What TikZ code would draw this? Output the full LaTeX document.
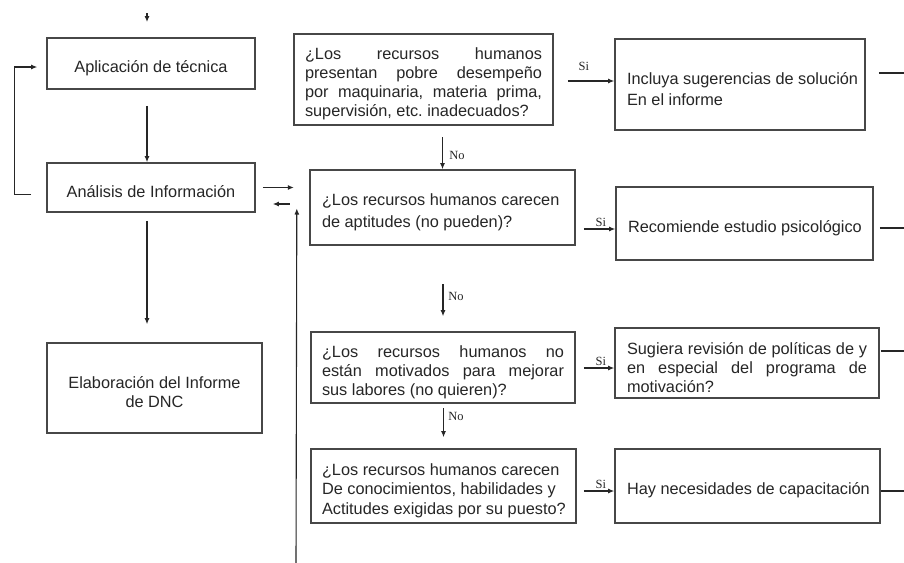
\documentclass[tikz,border=0pt]{standalone}
\usepackage{fontspec}
\setmainfont{Liberation Sans}
\newfontfamily\lblfont{Liberation Serif}
\usetikzlibrary{arrows.meta,calc}
\frenchspacing

\definecolor{ink}{HTML}{262626}
\definecolor{edge}{HTML}{474747}

% a line stretched to a fixed width, and lines set at their natural width
\newcommand\jl[2]{\makebox[#1][s]{\spaceskip=0pt\xspaceskip=0pt #2}}
\newcommand\lf[1]{\makebox[0pt][l]{\spaceskip=0pt\xspaceskip=0pt #1}}
\newcommand\cf[1]{\makebox[0pt][c]{\spaceskip=0pt\xspaceskip=0pt #1}}

\tikzset{
  box/.style={draw=edge, line width=1.6pt, rectangle, inner ysep=0pt,
    font=\fontsize{16.3}{19}\selectfont, text=ink, align=left,
    execute at begin node={\rule{0pt}{20.5pt}}},
  arr/.style={draw=ink, line width=1.1pt, -{Latex[length=6pt,width=5pt]}},
  lbl/.style={font=\lblfont\fontsize{12.5}{12.5}\selectfont, text=ink, inner sep=0pt},
}

\begin{document}
\begin{tikzpicture}[x=1pt,y=-1pt]
\useasboundingbox[fill=white] (0,0) rectangle (904,562);

% left column
\node[box, align=center, minimum width=208pt, minimum height=51pt, text width=190pt, inner xsep=9pt]
  (apl) at (151,63.5) {\cf{Aplicación de técnica}};
\node[box, align=center, minimum width=208pt, minimum height=49pt, text width=190pt, inner xsep=9pt]
  (ana) at (151,187.5) {\cf{Análisis de Información}};
\node[box, align=center, minimum width=215pt, minimum height=90pt, text width=197pt, inner xsep=9pt]
  (ela) at (154.5,388) {\cf{Elaboración del Informe}\\\cf{de DNC}};

% questions
\node[box, minimum width=259pt, minimum height=91pt, text width=237pt, inner xsep=11pt]
  (q1) at (423.5,79.5) {\jl{237pt}{¿Los recursos humanos}\\\jl{237pt}{presentan pobre desempeño}\\\jl{237pt}{por maquinaria, materia prima,}\\\lf{supervisión, etc. inadecuados?}};
\node[box, minimum width=265pt, minimum height=75pt, text width=241pt, inner xsep=12pt,
  font=\fontsize{16.3}{22}\selectfont]
  (q2) at (442.5,207.5) {\lf{¿Los recursos humanos carecen}\\\lf{de aptitudes (no pueden)?}};
\node[box, minimum width=264pt, minimum height=71pt, text width=242pt, inner xsep=11pt]
  (q3) at (443,367.5) {\jl{242pt}{¿Los recursos humanos no}\\\jl{242pt}{están motivados para mejorar}\\\lf{sus labores (no quieren)?}};
\node[box, minimum width=265pt, minimum height=74pt, text width=243pt, inner xsep=11pt,
  font=\fontsize{16.3}{19.5}\selectfont]
  (q4) at (443.5,486) {\lf{¿Los recursos humanos carecen}\\\lf{De conocimientos, habilidades y}\\\lf{Actitudes exigidas por su puesto?}};

% answers
\node[box, minimum width=250pt, minimum height=91pt, text width=226pt, inner xsep=12pt,
  font=\fontsize{16.3}{21}\selectfont]
  (r1) at (740,84.5) {\lf{Incluya sugerencias de solución}\\\lf{En el informe}};
\node[box, minimum width=257pt, minimum height=73pt, text width=233pt, inner xsep=12pt]
  (r2) at (744.5,223.5) {\lf{Recomiende estudio psicológico}};
\node[box, minimum width=264pt, minimum height=70pt, text width=240pt, inner xsep=12pt]
  (r3) at (747,363) {\jl{240pt}{Sugiera revisión de políticas de y}\\\jl{240pt}{en especial del programa de}\\\lf{motivación?}};
\node[box, minimum width=265pt, minimum height=74pt, text width=241pt, inner xsep=12pt]
  (r4) at (747.5,486) {\lf{Hay necesidades de capacitación}};

% incoming arrow at the top
\coordinate (inTop) at (147,13);
\coordinate (inTip) at (147,22);
\draw[arr] (inTop) -- (inTip);

% left column flow
\draw[arr] ($(apl.south)+(-4,16)$) -- ($(ana.north)+(-4,0)$);
\draw[arr] ($(ana.south)+(-4,8)$) -- ($(ana.south |- ela.north)+(-4,-18)$);
\draw[arr] ($(ana.west)+(-15,7)$) -- ++(-17,0) |- ($(apl.west)+(-9,3.5)$);

% link to the question column and the return line
\draw[arr] ($(ana.east)+(7,0)$) -- ($(ana.east)+(38,0)$);
\draw[arr] ($(ana.east)+(34,16.5)$) -- ($(ana.east)+(17,16.5)$);
\coordinate (retBot) at (296,566);
\draw[arr] (retBot) -- ($(ana.east)+(41,21)$);

% "No" branches
\draw[arr] ($(q2.north)+(0,-32)$) -- (q2.north);
\node[lbl] (no1) at ($(q2.north)+(14.5,-14)$) {No};
\draw[arr] ($(q3.north)+(0,-47)$) -- ($(q3.north)+(0,-15)$);
\node[lbl] (no2) at ($(q3.north)+(13,-35)$) {No};
\draw[arr] ($(q4.north)+(0,-40)$) -- ($(q4.north)+(0,-11)$);
\node[lbl] (no3) at ($(q4.north)+(12.5,-32)$) {No};

% "Si" branches
\coordinate (s1) at ($(q1.east)+(14,1.5)$);
\draw[arr] (s1) -- (s1 -| r1.west);
\node[lbl] (si1) at ($(s1)+(16,-15)$) {Si};
\coordinate (s2) at ($(q2.east)+(8,21.5)$);
\draw[arr] (s2) -- (s2 -| r2.west);
\node[lbl, anchor=south] (si2) at ($(s2)+(17,-2)$) {Si};
\coordinate (s3) at ($(q3.east)+(8,0.5)$);
\draw[arr] (s3) -- (s3 -| r3.west);
\node[lbl, anchor=south] (si3) at ($(s3)+(17,-2)$) {Si};
\coordinate (s4) at ($(q4.east)+(7,5)$);
\draw[arr] (s4) -- (s4 -| r4.west);
\node[lbl, anchor=south] (si4) at ($(s4)+(17,-2)$) {Si};

% outgoing lines on the right
\draw[arr] ($(r1.east)+(13,-11.5)$) -- ++(34,0);
\draw[arr] ($(r2.east)+(6,4.5)$) -- ++(33,0);
\draw[arr] ($(r3.east)+(1,-12)$) -- ++(32,0);
\draw[arr] ($(r4.east)+(0,5)$) -- ++(32,0);
\end{tikzpicture}
\end{document}
